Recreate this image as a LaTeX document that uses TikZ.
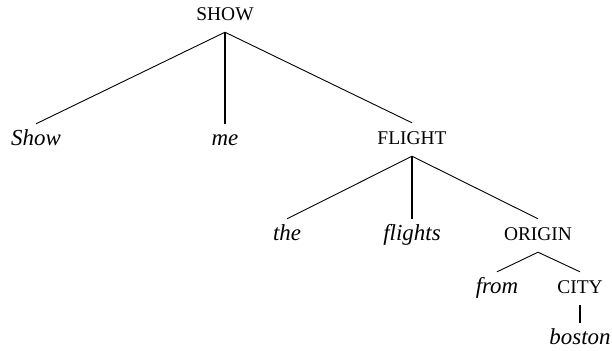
\documentclass[tikz,border=0pt]{standalone}
\usepackage{fontspec}
\setmainfont{Liberation Serif}
\begin{document}
\begin{tikzpicture}[x=1bp,y=-1bp,
  tnode/.style={anchor=base,inner sep=0pt,text height=21bp,text depth=12bp},
  cat/.style={tnode,font=\fontsize{19.5}{20}\selectfont},
  word/.style={tnode,font=\fontsize{23}{24}\selectfont\itshape},
  edge/.style={line width=0.9bp},
  vedge/.style={line width=1.8bp}]
\useasboundingbox (0,0) rectangle (612,350);
\node[cat] (SHOW) at (225,20) {SHOW};
\node[word] (Show) at (36,145) {Show};
\node[word] (me) at (225,145) {me};
\node[cat] (FLIGHT) at (412,144) {FLIGHT};
\node[word] (the) at (287,240) {the};
\node[word] (flights) at (412,240) {flights};
\node[cat] (ORIGIN) at (538,240) {ORIGIN};
\node[word] (from) at (497,293) {from};
\node[cat] (CITY) at (580,293) {CITY};
\node[word] (boston) at (580,344) {boston};
\draw[edge] (SHOW.south) -- (Show.north);
\draw[vedge] (SHOW.south) -- (me.north);
\draw[edge] (SHOW.south) -- (FLIGHT.north);
\draw[edge] (FLIGHT.south) -- (the.north);
\draw[vedge] (FLIGHT.south) -- (flights.north);
\draw[edge] (FLIGHT.south) -- (ORIGIN.north);
\draw[edge] (ORIGIN.south) -- (from.north);
\draw[edge] (ORIGIN.south) -- (CITY.north);
\draw[vedge] (CITY.south) -- (boston.north);
\end{tikzpicture}
\end{document}
